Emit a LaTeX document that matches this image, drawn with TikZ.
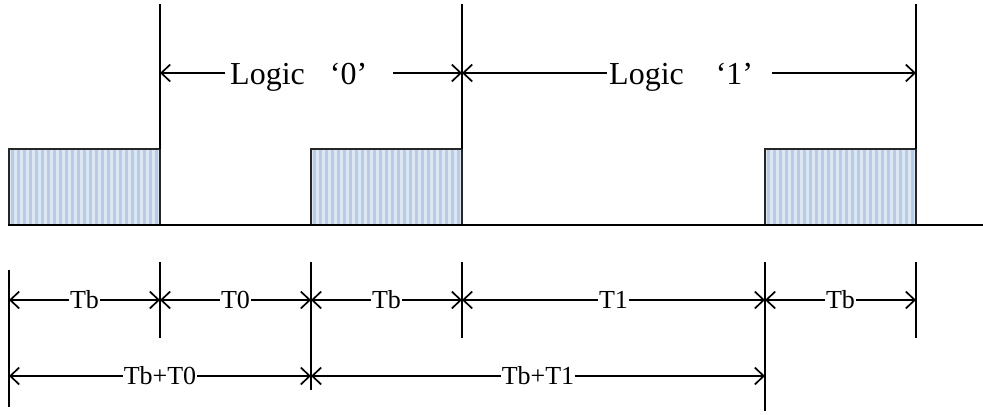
\documentclass[tikz,border=0pt]{standalone}
\usepackage{fontspec}
\setmainfont{Liberation Serif}
\usetikzlibrary{arrows.meta}

\definecolor{stripelight}{HTML}{DDE7F3}
\definecolor{stripedark}{HTML}{B7CBE5}

\tikzset{
  dim/.style={<->, line width=1.7},
  half/.style={->, line width=1.7},
  tick/.style={line width=1.7},
  lbl/.style={fill=white, inner sep=1pt, font=\fontsize{26}{28}\selectfont},
  biglbl/.style={inner sep=0pt, anchor=base west, font=\fontsize{32}{34}\selectfont}
}

\begin{document}
\begin{tikzpicture}[x=1pt, y=-1pt, >={Straight Barb[length=9pt,width=17pt]}]
  \useasboundingbox (0,0) rectangle (983,415);

  % striped pulses
  \foreach \x in {9,311,765}{
    \fill[stripelight] (\x,149) rectangle ++(151,76);
    \foreach \i in {0,...,24}
      \fill[stripedark] (\x+2+\i*6,149) rectangle ++(3,76);
    \draw[line width=1.2, black!85] (\x,225) |- (\x+151,149) -- (\x+151,225);
  }

  % base line
  \draw[line width=2.6] (8,225) -- (983,225);

  % tall edges above the pulses
  \coordinate (E1) at (160,4);
  \coordinate (E2) at (462,4);
  \coordinate (E3) at (916,4);
  \draw[tick] (E1) -- (160,149);
  \draw[tick] (E2) -- (462,149);
  \draw[tick] (E3) -- (916,149);

  % top dimensions: Logic '0' and Logic '1'
  \coordinate (L0) at (160,73);
  \coordinate (L1) at (462,73);
  \coordinate (L2) at (916,73);
  \node (lg0) [biglbl] at (225,84) {\kern5pt Logic\kern25pt ‘0’\kern26pt\null};
  \node (lg1) [biglbl] at (607,84) {\kern2pt Logic\kern32pt ‘1’\kern19pt\null};
  \draw[half] (lg0.west |- L0) -- (L0);
  \draw[half] (lg0.east |- L0) -- (L1);
  \draw[half] (lg1.west |- L1) -- (L1);
  \draw[half] (lg1.east |- L1) -- (L2);

  % ticks below
  \draw[tick] (9,270) -- (9,407);
  \draw[tick] (160,262) -- (160,338);
  \draw[tick] (311,262) -- (311,390);
  \draw[tick] (462,262) -- (462,338);
  \draw[tick] (765,262) -- (765,411);
  \draw[tick] (916,262) -- (916,338);

  % first row
  \coordinate (A0) at (9,300);
  \coordinate (A1) at (160,300);
  \coordinate (A2) at (311,300);
  \coordinate (A3) at (462,300);
  \coordinate (A4) at (765,300);
  \coordinate (A5) at (916,300);
  \draw[dim] (A0) -- (A1) node[midway, lbl] {Tb};
  \draw[dim] (A1) -- (A2) node[midway, lbl] {T0};
  \draw[dim] (A2) -- (A3) node[midway, lbl] {Tb};
  \draw[dim] (A3) -- (A4) node[midway, lbl] {T1};
  \draw[dim] (A4) -- (A5) node[midway, lbl] {Tb};

  % second row
  \coordinate (B0) at (9,376);
  \coordinate (B1) at (311,376);
  \coordinate (B2) at (765,376);
  \draw[dim] (B0) -- (B1) node[midway, lbl] {Tb+T0};
  \draw[dim] (B1) -- (B2) node[midway, lbl] {Tb+T1};
\end{tikzpicture}
\end{document}
